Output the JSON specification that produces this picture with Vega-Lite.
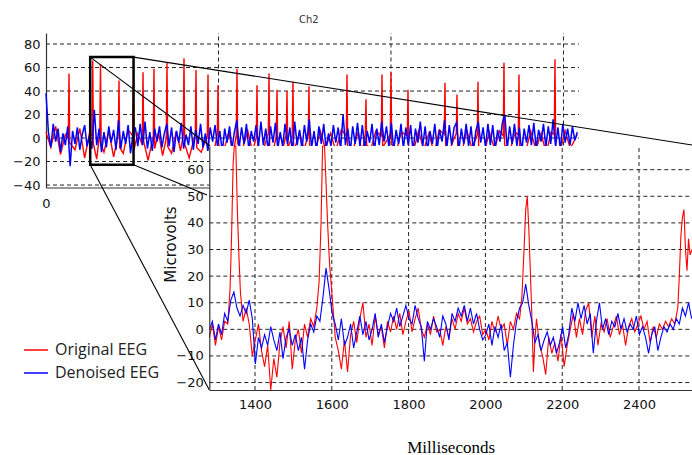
{
"$schema": "https://vega.github.io/schema/vega-lite/v6.json",
"width": 692, "height": 455, "autosize": "none", "padding": 0, "background": "white",
"title": {"text": "Ch2", "font": "DejaVu Sans", "fontSize": 10, "fontWeight": "normal", "color": "#333", "anchor": "start", "dx": 299, "offset": -25},
"config": {"view": {"stroke": null}, "axis": {"labelFont": "DejaVu Sans", "labelFontSize": 13, "labelColor": "#111", "domainColor": "#333", "domainWidth": 1.2, "ticks": false, "grid": false, "labelOverlap": false, "labelFlush": false}},
"datasets": {
"one": [{"a": 1}],
"tgh": [{"v": -40}, {"v": -20}, {"v": 0}, {"v": 20}, {"v": 40}, {"v": 60}, {"v": 80}],
"tgv": [{"t": 5000}, {"t": 10000}, {"t": 15000}],
"igh": [{"v": -20}, {"v": -10}, {"v": 0}, {"v": 10}, {"v": 20}, {"v": 30}, {"v": 40}, {"v": 50}, {"v": 60}],
"igv": [{"t": 1400}, {"t": 1600}, {"t": 1800}, {"t": 2000}, {"t": 2200}, {"t": 2400}],
"zl": [{"t": 1281, "v": 68.9, "t2": 4754, "v2": -6.8}, {"t": 2538, "v": 68.9, "t2": 18726, "v2": -5.9}, {"t": 2538, "v": -22.8, "t2": 4667, "v2": -48.5}, {"t": 1281, "v": -22.8, "t2": 4734, "v2": -214.5}],
"tb": [
{"t":0,"v":38},{"t":70,"v":5},{"t":140,"v":-8},{"t":210,"v":12},{"t":280,"v":-3},{"t":350,"v":8},{"t":420,"v":-12},{"t":490,"v":4},{"t":560,"v":-6},{"t":630,"v":10},
{"t":700,"v":-24},{"t":770,"v":6},{"t":840,"v":-5},{"t":910,"v":9},{"t":980,"v":-10},{"t":1050,"v":3},{"t":1120,"v":11},{"t":1190,"v":-7},{"t":1260,"v":2},{"t":1330,"v":-9},
{"t":1400,"v":24},{"t":1470,"v":-6},{"t":1540,"v":8},{"t":1610,"v":-12},{"t":1680,"v":5},{"t":1750,"v":-8},{"t":1820,"v":10},{"t":1890,"v":-4},{"t":1960,"v":7},{"t":2030,"v":-10},
{"t":2100,"v":15},{"t":2170,"v":-9},{"t":2240,"v":6},{"t":2310,"v":-5},{"t":2380,"v":11},{"t":2450,"v":-13},{"t":2520,"v":3},{"t":2590,"v":9},{"t":2660,"v":-7},{"t":2730,"v":12},
{"t":2800,"v":-6},{"t":2870,"v":14},{"t":2940,"v":-9},{"t":3010,"v":5},{"t":3080,"v":-11},{"t":3150,"v":8},{"t":3220,"v":-3},{"t":3290,"v":10},{"t":3360,"v":-8},{"t":3430,"v":4},
{"t":3500,"v":12},{"t":3570,"v":-7},{"t":3640,"v":9},{"t":3710,"v":-12},{"t":3780,"v":6},{"t":3850,"v":-4},{"t":3920,"v":13},{"t":3990,"v":-9},{"t":4060,"v":3},{"t":4130,"v":-6},
{"t":4200,"v":10},{"t":4270,"v":-10},{"t":4340,"v":7},{"t":4410,"v":-5},{"t":4480,"v":12},{"t":4550,"v":-8},{"t":4620,"v":4},{"t":4690,"v":-11},{"t":4760,"v":9},{"t":4830,"v":-3},
{"t":4900,"v":11},{"t":4970,"v":-7},{"t":5040,"v":6},{"t":5110,"v":-12},{"t":5180,"v":8},{"t":5250,"v":-4},{"t":5320,"v":10},{"t":5390,"v":-9},{"t":5460,"v":5},{"t":5530,"v":15},
{"t":5600,"v":-8},{"t":5670,"v":9},{"t":5740,"v":-5},{"t":5810,"v":12},{"t":5880,"v":-10},{"t":5950,"v":6},{"t":6020,"v":-3},{"t":6090,"v":11},{"t":6160,"v":-7},{"t":6230,"v":14},
{"t":6300,"v":-6},{"t":6370,"v":8},{"t":6440,"v":-11},{"t":6510,"v":10},{"t":6580,"v":-4},{"t":6650,"v":13},{"t":6720,"v":-9},{"t":6790,"v":5},{"t":6860,"v":-7},{"t":6930,"v":12},
{"t":7000,"v":-5},{"t":7070,"v":9},{"t":7140,"v":-12},{"t":7210,"v":14},{"t":7280,"v":-6},{"t":7350,"v":7},{"t":7420,"v":-10},{"t":7490,"v":11},{"t":7560,"v":-3},{"t":7630,"v":16},
{"t":7700,"v":-8},{"t":7770,"v":6},{"t":7840,"v":-11},{"t":7910,"v":10},{"t":7980,"v":-5},{"t":8050,"v":12},{"t":8120,"v":-9},{"t":8190,"v":4},{"t":8260,"v":-7},{"t":8330,"v":11},
{"t":8400,"v":-4},{"t":8470,"v":9},{"t":8540,"v":-10},{"t":8610,"v":20},{"t":8680,"v":-6},{"t":8750,"v":8},{"t":8820,"v":-12},{"t":8890,"v":10},{"t":8960,"v":-5},{"t":9030,"v":13},
{"t":9100,"v":-7},{"t":9170,"v":11},{"t":9240,"v":-9},{"t":9310,"v":6},{"t":9380,"v":-4},{"t":9450,"v":12},{"t":9520,"v":-11},{"t":9590,"v":8},{"t":9660,"v":-6},{"t":9730,"v":14},
{"t":9800,"v":-3},{"t":9870,"v":10},{"t":9940,"v":-8},{"t":10010,"v":13},{"t":10080,"v":-10},{"t":10150,"v":7},{"t":10220,"v":-5},{"t":10290,"v":12},{"t":10360,"v":-9},{"t":10430,"v":9},
{"t":10500,"v":-6},{"t":10570,"v":11},{"t":10640,"v":-12},{"t":10710,"v":8},{"t":10780,"v":-4},{"t":10850,"v":14},{"t":10920,"v":-7},{"t":10990,"v":10},{"t":11060,"v":-11},{"t":11130,"v":6},
{"t":11200,"v":-5},{"t":11270,"v":12},{"t":11340,"v":-9},{"t":11410,"v":7},{"t":11480,"v":-3},{"t":11550,"v":15},{"t":11620,"v":-8},{"t":11690,"v":11},{"t":11760,"v":-6},{"t":11830,"v":9},
{"t":11900,"v":13},{"t":11970,"v":-10},{"t":12040,"v":8},{"t":12110,"v":-5},{"t":12180,"v":12},{"t":12250,"v":-7},{"t":12320,"v":10},{"t":12390,"v":-11},{"t":12460,"v":6},{"t":12530,"v":14},
{"t":12600,"v":-4},{"t":12670,"v":9},{"t":12740,"v":-8},{"t":12810,"v":12},{"t":12880,"v":-6},{"t":12950,"v":11},{"t":13020,"v":-10},{"t":13090,"v":7},{"t":13160,"v":-3},{"t":13230,"v":13},
{"t":13300,"v":20},{"t":13370,"v":-9},{"t":13440,"v":10},{"t":13510,"v":-5},{"t":13580,"v":12},{"t":13650,"v":-7},{"t":13720,"v":9},{"t":13790,"v":-12},{"t":13860,"v":8},{"t":13930,"v":-4},
{"t":14000,"v":11},{"t":14070,"v":-6},{"t":14140,"v":13},{"t":14210,"v":-9},{"t":14280,"v":7},{"t":14350,"v":-3},{"t":14420,"v":12},{"t":14490,"v":-8},{"t":14560,"v":10},{"t":14630,"v":-5},
{"t":14700,"v":16},{"t":14770,"v":-7},{"t":14840,"v":9},{"t":14910,"v":-10},{"t":14980,"v":12},{"t":15050,"v":-4},{"t":15120,"v":8},{"t":15190,"v":-6},{"t":15260,"v":10},{"t":15330,"v":-2},{"t":15400,"v":5}
],
"tr": [
{"t":0,"v":5},{"t":140,"v":-8},{"t":280,"v":10},{"t":420,"v":-14},{"t":560,"v":3},{"t":647,"v":0},{"t":667,"v":55},{"t":687,"v":-4},{"t":840,"v":-10},{"t":980,"v":8},
{"t":1120,"v":-17},{"t":1260,"v":4},{"t":1334,"v":2},{"t":1354,"v":66},{"t":1374,"v":-5},{"t":1470,"v":-18},{"t":1560,"v":5},{"t":1580,"v":63},{"t":1600,"v":-6},{"t":1680,"v":-12},
{"t":1820,"v":6},{"t":1960,"v":-16},{"t":2096,"v":3},{"t":2116,"v":49},{"t":2136,"v":-8},{"t":2240,"v":-13},{"t":2380,"v":7},{"t":2510,"v":2},{"t":2530,"v":45},{"t":2550,"v":-10},
{"t":2660,"v":4},{"t":2792,"v":-6},{"t":2812,"v":56},{"t":2832,"v":-3},{"t":2960,"v":-19},{"t":3110,"v":2},{"t":3130,"v":59},{"t":3150,"v":-9},{"t":3260,"v":5},{"t":3380,"v":-15},
{"t":3487,"v":0},{"t":3507,"v":64},{"t":3527,"v":-7},{"t":3640,"v":-13},{"t":3780,"v":6},{"t":3900,"v":-11},{"t":3980,"v":3},{"t":4000,"v":68},{"t":4020,"v":-5},{"t":4150,"v":-17},
{"t":4328,"v":4},{"t":4348,"v":58},{"t":4368,"v":-8},{"t":4500,"v":-12},{"t":4676,"v":2},{"t":4696,"v":54},{"t":4716,"v":-9},{"t":4850,"v":-14},{"t":4966,"v":3},{"t":4986,"v":45},
{"t":5006,"v":-6},{"t":5150,"v":-11},{"t":5300,"v":5},{"t":5420,"v":-13},{"t":5516,"v":2},{"t":5536,"v":59},{"t":5556,"v":-5},{"t":5700,"v":-9},{"t":5850,"v":6},{"t":5990,"v":-12},
{"t":6096,"v":1},{"t":6116,"v":45},{"t":6136,"v":-7},{"t":6300,"v":-10},{"t":6444,"v":4},{"t":6464,"v":55},{"t":6484,"v":-8},{"t":6580,"v":-13},{"t":6676,"v":2},{"t":6696,"v":41},
{"t":6716,"v":-6},{"t":6850,"v":-11},{"t":6966,"v":3},{"t":6986,"v":40},{"t":7006,"v":-9},{"t":7139,"v":2},{"t":7159,"v":48},{"t":7179,"v":-12},{"t":7350,"v":5},{"t":7480,"v":-10},
{"t":7603,"v":3},{"t":7623,"v":44},{"t":7643,"v":-7},{"t":7800,"v":-12},{"t":7950,"v":6},{"t":8100,"v":-9},{"t":8250,"v":4},{"t":8400,"v":-11},{"t":8560,"v":7},{"t":8705,"v":2},
{"t":8725,"v":54},{"t":8745,"v":-8},{"t":8900,"v":-10},{"t":9050,"v":5},{"t":9160,"v":-13},{"t":9255,"v":3},{"t":9275,"v":33},{"t":9295,"v":-6},{"t":9420,"v":-9},{"t":9560,"v":6},
{"t":9719,"v":2},{"t":9739,"v":54},{"t":9759,"v":-8},{"t":9980,"v":3},{"t":10000,"v":56},{"t":10020,"v":-5},{"t":10150,"v":-12},{"t":10300,"v":5},{"t":10473,"v":2},{"t":10493,"v":41},
{"t":10513,"v":-9},{"t":10650,"v":-11},{"t":10800,"v":6},{"t":10950,"v":-10},{"t":11100,"v":4},{"t":11250,"v":-13},{"t":11400,"v":7},{"t":11545,"v":3},{"t":11565,"v":47},{"t":11585,"v":-8},
{"t":11700,"v":-10},{"t":11893,"v":4},{"t":11913,"v":37},{"t":11933,"v":-7},{"t":12050,"v":-12},{"t":12200,"v":6},{"t":12350,"v":-9},{"t":12502,"v":3},{"t":12522,"v":48},{"t":12542,"v":-10},
{"t":12700,"v":-13},{"t":12850,"v":5},{"t":13000,"v":-9},{"t":13150,"v":6},{"t":13255,"v":2},{"t":13275,"v":64},{"t":13295,"v":-6},{"t":13450,"v":-11},{"t":13600,"v":5},{"t":13690,"v":3},
{"t":13710,"v":54},{"t":13730,"v":-8},{"t":13900,"v":-12},{"t":14050,"v":6},{"t":14200,"v":-10},{"t":14350,"v":4},{"t":14500,"v":-13},{"t":14640,"v":5},{"t":14734,"v":3},{"t":14754,"v":67},
{"t":14774,"v":-7},{"t":14900,"v":-11},{"t":15050,"v":6},{"t":15200,"v":-9},{"t":15400,"v":3}
],
"ib": [
{"t":1281,"v":0},{"t":1289,"v":3},{"t":1297,"v":-4},{"t":1305,"v":2},{"t":1313,"v":-2},{"t":1321,"v":6},{"t":1329,"v":3},{"t":1337,"v":11},{"t":1345,"v":14},{"t":1353,"v":8},
{"t":1361,"v":5},{"t":1369,"v":9},{"t":1377,"v":6},{"t":1385,"v":11},{"t":1393,"v":4},{"t":1401,"v":-13},{"t":1409,"v":-3},{"t":1417,"v":-7},{"t":1425,"v":-2},{"t":1433,"v":-6},
{"t":1441,"v":1},{"t":1449,"v":-4},{"t":1457,"v":-8},{"t":1465,"v":-1},{"t":1473,"v":-11},{"t":1481,"v":-3},{"t":1489,"v":0},{"t":1497,"v":-6},{"t":1505,"v":-2},{"t":1513,"v":-8},
{"t":1521,"v":-3},{"t":1529,"v":-15},{"t":1537,"v":-4},{"t":1545,"v":2},{"t":1553,"v":-1},{"t":1561,"v":5},{"t":1569,"v":3},{"t":1577,"v":12},{"t":1585,"v":23},{"t":1593,"v":15},
{"t":1601,"v":6},{"t":1609,"v":2},{"t":1617,"v":-4},{"t":1625,"v":4},{"t":1633,"v":-6},{"t":1641,"v":-3},{"t":1649,"v":2},{"t":1657,"v":-7},{"t":1665,"v":-1},{"t":1673,"v":5},
{"t":1681,"v":-2},{"t":1689,"v":3},{"t":1697,"v":-4},{"t":1705,"v":0},{"t":1713,"v":6},{"t":1721,"v":-3},{"t":1729,"v":2},{"t":1737,"v":-5},{"t":1745,"v":1},{"t":1753,"v":6},
{"t":1761,"v":3},{"t":1769,"v":8},{"t":1777,"v":1},{"t":1785,"v":5},{"t":1793,"v":9},{"t":1801,"v":4},{"t":1809,"v":2},{"t":1817,"v":9},{"t":1825,"v":4},{"t":1833,"v":1},
{"t":1841,"v":-12},{"t":1849,"v":3},{"t":1857,"v":0},{"t":1865,"v":4},{"t":1873,"v":1},{"t":1881,"v":-3},{"t":1889,"v":5},{"t":1897,"v":2},{"t":1905,"v":-4},{"t":1913,"v":6},
{"t":1921,"v":3},{"t":1929,"v":8},{"t":1937,"v":5},{"t":1945,"v":9},{"t":1953,"v":3},{"t":1961,"v":8},{"t":1969,"v":2},{"t":1977,"v":6},{"t":1985,"v":0},{"t":1993,"v":-4},
{"t":2001,"v":-2},{"t":2009,"v":2},{"t":2017,"v":-6},{"t":2025,"v":1},{"t":2033,"v":-3},{"t":2041,"v":2},{"t":2049,"v":-8},{"t":2057,"v":-5},{"t":2065,"v":-18},{"t":2073,"v":-6},
{"t":2081,"v":3},{"t":2089,"v":8},{"t":2097,"v":10},{"t":2105,"v":17},{"t":2113,"v":9},{"t":2121,"v":3},{"t":2129,"v":-5},{"t":2137,"v":-2},{"t":2145,"v":-8},{"t":2153,"v":-4},
{"t":2161,"v":-1},{"t":2169,"v":-6},{"t":2177,"v":-3},{"t":2185,"v":-9},{"t":2193,"v":-5},{"t":2201,"v":1},{"t":2209,"v":-7},{"t":2217,"v":-2},{"t":2225,"v":8},{"t":2233,"v":3},
{"t":2241,"v":10},{"t":2249,"v":4},{"t":2257,"v":9},{"t":2265,"v":2},{"t":2273,"v":6},{"t":2281,"v":-9},{"t":2289,"v":3},{"t":2297,"v":10},{"t":2305,"v":0},{"t":2313,"v":4},
{"t":2321,"v":-2},{"t":2329,"v":3},{"t":2337,"v":1},{"t":2345,"v":6},{"t":2353,"v":0},{"t":2361,"v":4},{"t":2369,"v":-1},{"t":2377,"v":2},{"t":2385,"v":0},{"t":2393,"v":5},
{"t":2401,"v":-2},{"t":2409,"v":1},{"t":2417,"v":-3},{"t":2425,"v":-9},{"t":2433,"v":-2},{"t":2441,"v":1},{"t":2449,"v":-8},{"t":2457,"v":-3},{"t":2465,"v":1},{"t":2473,"v":-1},
{"t":2481,"v":2},{"t":2489,"v":0},{"t":2497,"v":4},{"t":2505,"v":2},{"t":2513,"v":8},{"t":2521,"v":5},{"t":2529,"v":10},{"t":2537,"v":4}
],
"ir": [
{"t":1281,"v":-3},{"t":1289,"v":2},{"t":1297,"v":-6},{"t":1305,"v":1},{"t":1313,"v":-4},{"t":1321,"v":3},{"t":1329,"v":2},{"t":1335,"v":15},{"t":1339,"v":35},{"t":1343,"v":62},
{"t":1346,"v":75},{"t":1350,"v":70},{"t":1354,"v":45},{"t":1358,"v":28},{"t":1362,"v":14},{"t":1369,"v":3},{"t":1377,"v":8},{"t":1385,"v":2},{"t":1393,"v":-10},{"t":1401,"v":-4},
{"t":1409,"v":2},{"t":1417,"v":-8},{"t":1425,"v":-14},{"t":1433,"v":-6},{"t":1441,"v":-24},{"t":1449,"v":-11},{"t":1457,"v":-18},{"t":1465,"v":-5},{"t":1473,"v":1},{"t":1481,"v":-7},
{"t":1489,"v":3},{"t":1497,"v":-15},{"t":1505,"v":-4},{"t":1513,"v":0},{"t":1521,"v":-9},{"t":1529,"v":2},{"t":1537,"v":-3},{"t":1545,"v":4},{"t":1553,"v":1},{"t":1561,"v":8},
{"t":1567,"v":18},{"t":1572,"v":40},{"t":1576,"v":72},{"t":1581,"v":75},{"t":1585,"v":55},{"t":1589,"v":40},{"t":1594,"v":25},{"t":1601,"v":12},{"t":1609,"v":-3},{"t":1617,"v":-8},
{"t":1625,"v":-15},{"t":1633,"v":-4},{"t":1641,"v":-16},{"t":1649,"v":-2},{"t":1657,"v":3},{"t":1665,"v":-5},{"t":1673,"v":4},{"t":1681,"v":10},{"t":1689,"v":-3},{"t":1697,"v":2},
{"t":1705,"v":-6},{"t":1713,"v":5},{"t":1721,"v":-2},{"t":1729,"v":1},{"t":1737,"v":-7},{"t":1745,"v":3},{"t":1753,"v":-1},{"t":1761,"v":5},{"t":1769,"v":0},{"t":1777,"v":6},
{"t":1785,"v":-2},{"t":1793,"v":3},{"t":1801,"v":7},{"t":1809,"v":-1},{"t":1817,"v":4},{"t":1825,"v":8},{"t":1833,"v":0},{"t":1841,"v":-3},{"t":1849,"v":2},{"t":1857,"v":-2},
{"t":1865,"v":5},{"t":1873,"v":-1},{"t":1881,"v":0},{"t":1889,"v":-6},{"t":1897,"v":1},{"t":1905,"v":-3},{"t":1913,"v":4},{"t":1921,"v":0},{"t":1929,"v":6},{"t":1937,"v":3},
{"t":1945,"v":8},{"t":1953,"v":2},{"t":1961,"v":4},{"t":1969,"v":-1},{"t":1977,"v":3},{"t":1985,"v":5},{"t":1993,"v":-2},{"t":2001,"v":0},{"t":2009,"v":-4},{"t":2017,"v":3},
{"t":2025,"v":-1},{"t":2033,"v":5},{"t":2041,"v":0},{"t":2049,"v":2},{"t":2057,"v":-6},{"t":2065,"v":3},{"t":2073,"v":0},{"t":2081,"v":6},{"t":2089,"v":4},{"t":2095,"v":12},
{"t":2100,"v":28},{"t":2105,"v":45},{"t":2109,"v":50},{"t":2113,"v":38},{"t":2117,"v":22},{"t":2121,"v":5},{"t":2125,"v":-16},{"t":2129,"v":-4},{"t":2133,"v":4},{"t":2141,"v":-6},
{"t":2149,"v":-10},{"t":2157,"v":-17},{"t":2165,"v":-3},{"t":2173,"v":-9},{"t":2181,"v":-5},{"t":2189,"v":-12},{"t":2197,"v":-2},{"t":2205,"v":-14},{"t":2213,"v":-6},{"t":2221,"v":0},
{"t":2229,"v":6},{"t":2237,"v":-3},{"t":2245,"v":4},{"t":2253,"v":-2},{"t":2261,"v":7},{"t":2269,"v":10},{"t":2277,"v":-3},{"t":2285,"v":5},{"t":2293,"v":-6},{"t":2301,"v":2},
{"t":2309,"v":-1},{"t":2317,"v":4},{"t":2325,"v":-3},{"t":2333,"v":1},{"t":2341,"v":5},{"t":2349,"v":-2},{"t":2357,"v":2},{"t":2365,"v":-6},{"t":2373,"v":1},{"t":2381,"v":4},
{"t":2389,"v":-1},{"t":2397,"v":2},{"t":2405,"v":5},{"t":2413,"v":0},{"t":2421,"v":3},{"t":2429,"v":-5},{"t":2437,"v":1},{"t":2445,"v":-3},{"t":2453,"v":2},{"t":2461,"v":0},
{"t":2469,"v":3},{"t":2477,"v":1},{"t":2485,"v":4},{"t":2493,"v":2},{"t":2501,"v":8},{"t":2505,"v":20},{"t":2509,"v":35},{"t":2513,"v":42},{"t":2517,"v":45},{"t":2521,"v":30},
{"t":2525,"v":22},{"t":2529,"v":34},{"t":2533,"v":28},{"t":2538,"v":30}
]
},
"layer": [
{"data": {"name": "tgh"}, "mark": {"type": "rule", "color": "#222", "strokeWidth": 1, "strokeDash": [4, 3]},
 "encoding": {
  "y": {"field": "v", "type": "quantitative", "scale": {"domain": [-42.1, 89.4], "range": [187.5, 33], "nice": false, "zero": false}, "axis": null},
  "x": {"datum": 0, "type": "quantitative", "scale": {"domain": [0, 15450], "range": [46, 579], "nice": false, "zero": false}, "axis": null},
  "x2": {"datum": 15450}}},
{"data": {"name": "tgv"}, "mark": {"type": "rule", "color": "#222", "strokeWidth": 1, "strokeDash": [4, 3]},
 "encoding": {
  "x": {"field": "t", "type": "quantitative", "scale": {"domain": [0, 15450], "range": [46, 579], "nice": false, "zero": false}, "axis": null},
  "y": {"datum": -42.1, "type": "quantitative", "scale": {"domain": [-42.1, 89.4], "range": [187.5, 33], "nice": false, "zero": false}, "axis": null},
  "y2": {"datum": 89.4}}},
{"data": {"name": "tr"}, "mark": {"type": "line", "strokeWidth": 1.4},
 "encoding": {
  "x": {"field": "t", "type": "quantitative", "scale": {"domain": [0, 15450], "range": [46, 579], "nice": false, "zero": false}, "axis": null},
  "y": {"field": "v", "type": "quantitative", "scale": {"domain": [-42.1, 89.4], "range": [187.5, 33], "nice": false, "zero": false}, "axis": null},
  "color": {"datum": "Original EEG", "type": "nominal", "scale": {"domain": ["Original EEG", "Denoised EEG"], "range": ["#ff0000", "#0000ff"]}, "legend": {"orient": "none", "legendX": 23, "legendY": 337, "title": null, "symbolType": "stroke", "symbolSize": 576, "symbolStrokeWidth": 1.5, "labelFont": "Open Sans", "labelFontSize": 16, "labelColor": "#222", "labelOffset": 6, "rowPadding": 2, "padding": 0}}}},
{"data": {"name": "tb"}, "mark": {"type": "line", "strokeWidth": 1.5},
 "encoding": {
  "x": {"field": "t", "type": "quantitative", "scale": {"domain": [0, 15450], "range": [46, 579], "nice": false, "zero": false}, "axis": {"orient": "bottom", "offset": -267.5, "values": [0], "title": null, "zindex": 0, "labelPadding": 10}},
  "y": {"field": "v", "type": "quantitative", "scale": {"domain": [-42.1, 89.4], "range": [187.5, 33], "nice": false, "zero": false}, "axis": {"orient": "left", "offset": -46, "values": [-40, -20, 0, 20, 40, 60, 80], "title": null, "zindex": 0, "labelPadding": 6}},
  "color": {"datum": "Denoised EEG", "type": "nominal", "scale": {"domain": ["Original EEG", "Denoised EEG"], "range": ["#ff0000", "#0000ff"]}}}},
{"data": {"name": "one"}, "mark": {"type": "rect", "fill": null, "fillOpacity": 0, "stroke": "black", "strokeWidth": 2.5},
 "encoding": {
  "x": {"datum": 1281, "type": "quantitative", "scale": {"domain": [0, 15450], "range": [46, 579], "nice": false, "zero": false}, "axis": null},
  "x2": {"datum": 2538},
  "y": {"datum": 68.9, "type": "quantitative", "scale": {"domain": [-42.1, 89.4], "range": [187.5, 33], "nice": false, "zero": false}, "axis": null},
  "y2": {"datum": -22.8}}},
{"data": {"name": "zl"}, "mark": {"type": "rule", "color": "black", "strokeWidth": 1.1},
 "encoding": {
  "x": {"field": "t", "type": "quantitative", "scale": {"domain": [0, 15450], "range": [46, 579], "nice": false, "zero": false}, "axis": null},
  "x2": {"field": "t2"},
  "y": {"field": "v", "type": "quantitative", "scale": {"domain": [-42.1, 89.4], "range": [187.5, 33], "nice": false, "zero": false}, "axis": null},
  "y2": {"field": "v2"}}},
{"data": {"name": "one"}, "mark": {"type": "rect", "fill": "white", "stroke": null},
 "encoding": {
  "x": {"datum": 1281, "type": "quantitative", "scale": {"domain": [1281, 2538], "range": [209.3, 692], "nice": false, "zero": false}, "axis": null},
  "x2": {"datum": 2538},
  "y": {"datum": -22.8, "type": "quantitative", "scale": {"domain": [-22.8, 68.9], "range": [390, 146], "nice": false, "zero": false, "clamp": true}, "axis": null},
  "y2": {"datum": 68.9}}},
{"data": {"name": "igh"}, "mark": {"type": "rule", "color": "#222", "strokeWidth": 1, "strokeDash": [4, 3]},
 "encoding": {
  "y": {"field": "v", "type": "quantitative", "scale": {"domain": [-22.8, 68.9], "range": [390, 146], "nice": false, "zero": false, "clamp": true}, "axis": null},
  "x": {"datum": 1281, "type": "quantitative", "scale": {"domain": [1281, 2538], "range": [209.3, 692], "nice": false, "zero": false}, "axis": null},
  "x2": {"datum": 2538}}},
{"data": {"name": "igv"}, "mark": {"type": "rule", "color": "#222", "strokeWidth": 1, "strokeDash": [4, 3]},
 "encoding": {
  "x": {"field": "t", "type": "quantitative", "scale": {"domain": [1281, 2538], "range": [209.3, 692], "nice": false, "zero": false}, "axis": null},
  "y": {"datum": -22.8, "type": "quantitative", "scale": {"domain": [-22.8, 68.9], "range": [390, 146], "nice": false, "zero": false, "clamp": true}, "axis": null},
  "y2": {"datum": 68.9}}},
{"data": {"name": "ir"}, "mark": {"type": "line", "strokeWidth": 1.1},
 "encoding": {
  "x": {"field": "t", "type": "quantitative", "scale": {"domain": [1281, 2538], "range": [209.3, 692], "nice": false, "zero": false}, "axis": null},
  "y": {"field": "v", "type": "quantitative", "scale": {"domain": [-22.8, 68.9], "range": [390, 146], "nice": false, "zero": false, "clamp": true}, "axis": null},
  "color": {"datum": "Original EEG", "type": "nominal", "scale": {"domain": ["Original EEG", "Denoised EEG"], "range": ["#ff0000", "#0000ff"]}}}},
{"data": {"name": "ib"}, "mark": {"type": "line", "strokeWidth": 1.1},
 "encoding": {
  "x": {"field": "t", "type": "quantitative", "scale": {"domain": [1281, 2538], "range": [209.3, 692], "nice": false, "zero": false}, "axis": {"orient": "bottom", "offset": -65, "values": [1400, 1600, 1800, 2000, 2200, 2400], "format": "d", "title": "Milliseconds", "titleFont": "Liberation Serif", "titleFontSize": 17, "titleFontWeight": "normal", "titleColor": "#000", "titleY": 62, "titleBaseline": "alphabetic", "zindex": 1, "labelPadding": 8}},
  "y": {"field": "v", "type": "quantitative", "scale": {"domain": [-22.8, 68.9], "range": [390, 146], "nice": false, "zero": false, "clamp": true}, "axis": {"orient": "left", "offset": -209.3, "values": [-20, -10, 0, 10, 20, 30, 40, 50, 60], "title": "Microvolts", "titleFont": "DejaVu Sans", "titleFontSize": 15, "titleFontWeight": "normal", "titleColor": "#111", "titleX": -34, "titleY": 244, "titleBaseline": "alphabetic", "titleAlign": "center", "zindex": 1, "labelPadding": 6}},
  "color": {"datum": "Denoised EEG", "type": "nominal", "scale": {"domain": ["Original EEG", "Denoised EEG"], "range": ["#ff0000", "#0000ff"]}}}}
],
"resolve": {"scale": {"x": "independent", "y": "independent"}, "axis": {"x": "independent", "y": "independent"}}
}
